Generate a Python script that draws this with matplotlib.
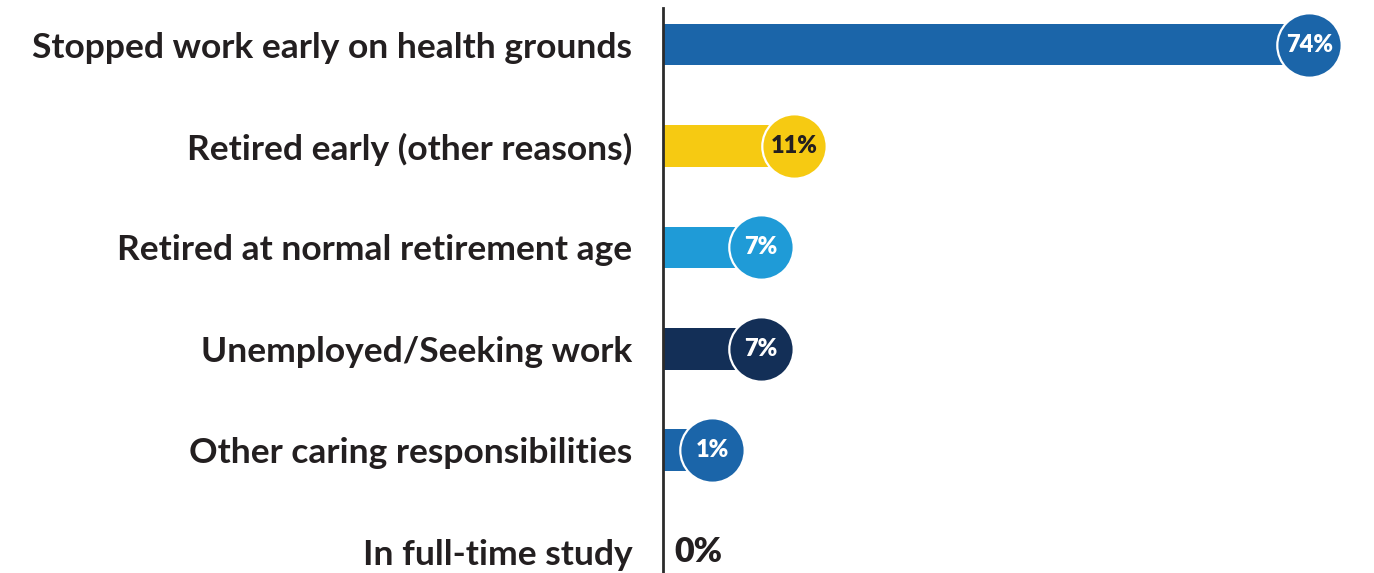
import numpy as np
import matplotlib.pyplot as plt

# reasons for leaving work, share of respondents (%)
reasons = [
    "Stopped work early on health grounds",
    "Retired early (other reasons)",
    "Retired at normal retirement age",
    "Unemployed/Seeking work",
    "Other caring responsibilities",
    "In full-time study",
]
shares = [74, 11, 7, 7, 1, 0]
bar_colors = ["#1b65a9", "#f6ca12", "#1f9bd7", "#132f57", "#1b65a9", "#1b65a9"]
text_colors = ["white", "#231f20", "white", "white", "white", "#231f20"]

plt.rcParams['font.family'] = ['Lato', 'DejaVu Sans']

fig = plt.figure(figsize=(13.74, 5.73), dpi=100)
ax = fig.add_axes([663 / 1374, 0, 711 / 1374, 565 / 573])

y = np.arange(len(reasons))
vals = np.array(shares, dtype=float)
pad = 5.0  # the badge sits a little past the bar's value

for yi, v, c, tc in zip(y, vals, bar_colors, text_colors):
    if v > 0:
        ax.barh(yi, v + pad, height=0.41, color=c, zorder=2)
        ax.scatter(v + pad, yi, s=2150, color=c, edgecolor="white",
                   linewidth=1.6, zorder=3)
        ax.text(v + pad, yi, f"{v:.0f}%", ha="center", va="center",
                fontsize=17, fontweight="heavy", color=tc, zorder=4)
    else:
        ax.text(1.4, yi, f"{v:.0f}%", ha="left", va="center",
                fontsize=24.5, fontweight="heavy", color=tc)

ax.set_xlim(0, 711 / 8.18)
ax.set_ylim(5.21, -0.36)
ax.set_yticks(y)
ax.set_yticklabels(reasons, fontsize=25.5, fontweight="bold", color="#231f20")
ax.tick_params(axis="y", length=0, pad=22)
ax.set_xticks([])

for side in ["top", "right", "bottom"]:
    ax.spines[side].set_visible(False)
ax.spines["left"].set_color("#2b2b2b")
ax.spines["left"].set_linewidth(2)

fig.savefig("out.png", dpi=100)
